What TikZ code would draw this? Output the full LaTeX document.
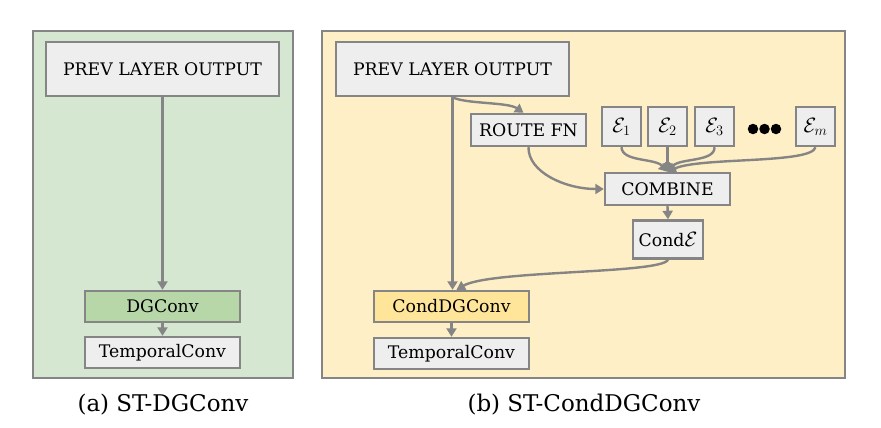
\documentclass[tikz,border=0pt]{standalone}
\usepackage{fontspec}
\setmainfont{DejaVu Serif}
\usetikzlibrary{arrows.meta,calc}
\definecolor{lineg}{HTML}{858585}
\definecolor{boxg}{HTML}{EEEEEE}
\definecolor{panelgreen}{HTML}{D5E7D0}
\definecolor{panelyellow}{HTML}{FFEFC6}
\definecolor{dggreen}{HTML}{B7D7A8}
\definecolor{condyellow}{HTML}{FFE599}
\tikzset{
  panel/.style={draw=lineg, line width=1.4pt},
  blk/.style={draw=lineg, line width=2.4pt, fill=boxg, inner sep=0pt, font=\fontsize{17.3}{20}\selectfont},
  expert/.style={blk, minimum width=39pt, minimum height=39pt, font=\fontsize{22}{24}\selectfont},
  conn/.style={draw=lineg, line width=2.4pt, -{Triangle[width=10pt,length=8.5pt]}},
  captext/.style={font=\fontsize{23}{26}\selectfont, inner sep=0pt},
  blackdot/.style={circle, fill=black, minimum size=10.5pt, inner sep=0pt}
}
\begin{document}
\begin{tikzpicture}[x=1pt,y=-1pt]
\useasboundingbox (0,0) rectangle (881,428);
% panels
\path[panel, fill=panelgreen] (33,31) rectangle (293,378);
\path[panel, fill=panelyellow] (322,31) rectangle (845,378);
% left panel
\node[blk, minimum width=233pt, minimum height=54pt] (prevL) at (162.5,69) {PREV LAYER OUTPUT};
\node[blk, fill=dggreen, minimum width=155pt, minimum height=31pt] (dg) at (162.5,306.5) {DGConv};
\node[blk, minimum width=155pt, minimum height=31pt] (tcL) at (162.5,352.5) {TemporalConv};
\draw[conn] (prevL.south) -- (dg.north);
\draw[conn] (dg.south) -- (tcL.north);
\node[captext] (capA) at (163,405) {(a) ST-DGConv};
% right panel
\node[blk, minimum width=233pt, minimum height=54pt] (prevR) at (452.5,69) {PREV LAYER OUTPUT};
\node[blk, minimum width=115pt, minimum height=32pt] (route) at (528.5,130) {ROUTE FN};
\node[expert] (e1) at (621.5,126.5) {$\mathcal{E}_1$};
\node[expert] (e2) at (667.5,126.5) {$\mathcal{E}_2$};
\node[expert] (e3) at (714.5,126.5) {$\mathcal{E}_3$};
\node[expert] (em) at (815.5,126.5) {$\mathcal{E}_m$};
\node[blackdot] (d1) at (753,129) {};
\node[blackdot] (d2) at (764.5,129) {};
\node[blackdot] (d3) at (776,129) {};
\node[blk, minimum width=125pt, minimum height=32pt] (comb) at (667.5,189) {COMBINE};
\node[blk, minimum width=70pt, minimum height=38pt] (conde) at (668,239.5) {Cond{\fontsize{21}{24}\selectfont$\mathcal{E}$}};
\node[blk, fill=condyellow, minimum width=155pt, minimum height=31pt] (cdg) at (451.5,306.5) {CondDGConv};
\node[blk, minimum width=155pt, minimum height=31pt] (tcR) at (451.5,353.5) {TemporalConv};
\coordinate (combtop) at (comb.north);
\coordinate (prevRs) at (prevR.south);
\coordinate (routein) at ($(route.north)+(-5,0)$);
\coordinate (cdgin) at ($(cdg.north)+(5,0)$);
\draw[conn] (prevRs) -- (prevRs |- cdg.north);
\draw[conn] (prevRs) .. controls (465,104) and (508,102) .. (routein);
\draw[conn] (route.south) .. controls (528,172) and (565,189) .. (comb.west);
\draw[conn] (e1.south) .. controls (622,162) and (655,158) .. (combtop);
\draw[conn] (e2.south) -- (combtop);
\draw[conn] (e3.south) .. controls (715,162) and (680,158) .. (combtop);
\draw[conn] (em.south) .. controls (812,164) and (700,157) .. (combtop);
\draw[conn] (comb.south) -- (conde.north);
\draw[conn] (conde.south) .. controls (662,274) and (490,270) .. (cdgin);
\draw[conn] (cdg.south) -- (tcR.north);
\node[captext] (capB) at (584,405) {(b) ST-CondDGConv};
\end{tikzpicture}
\end{document}
